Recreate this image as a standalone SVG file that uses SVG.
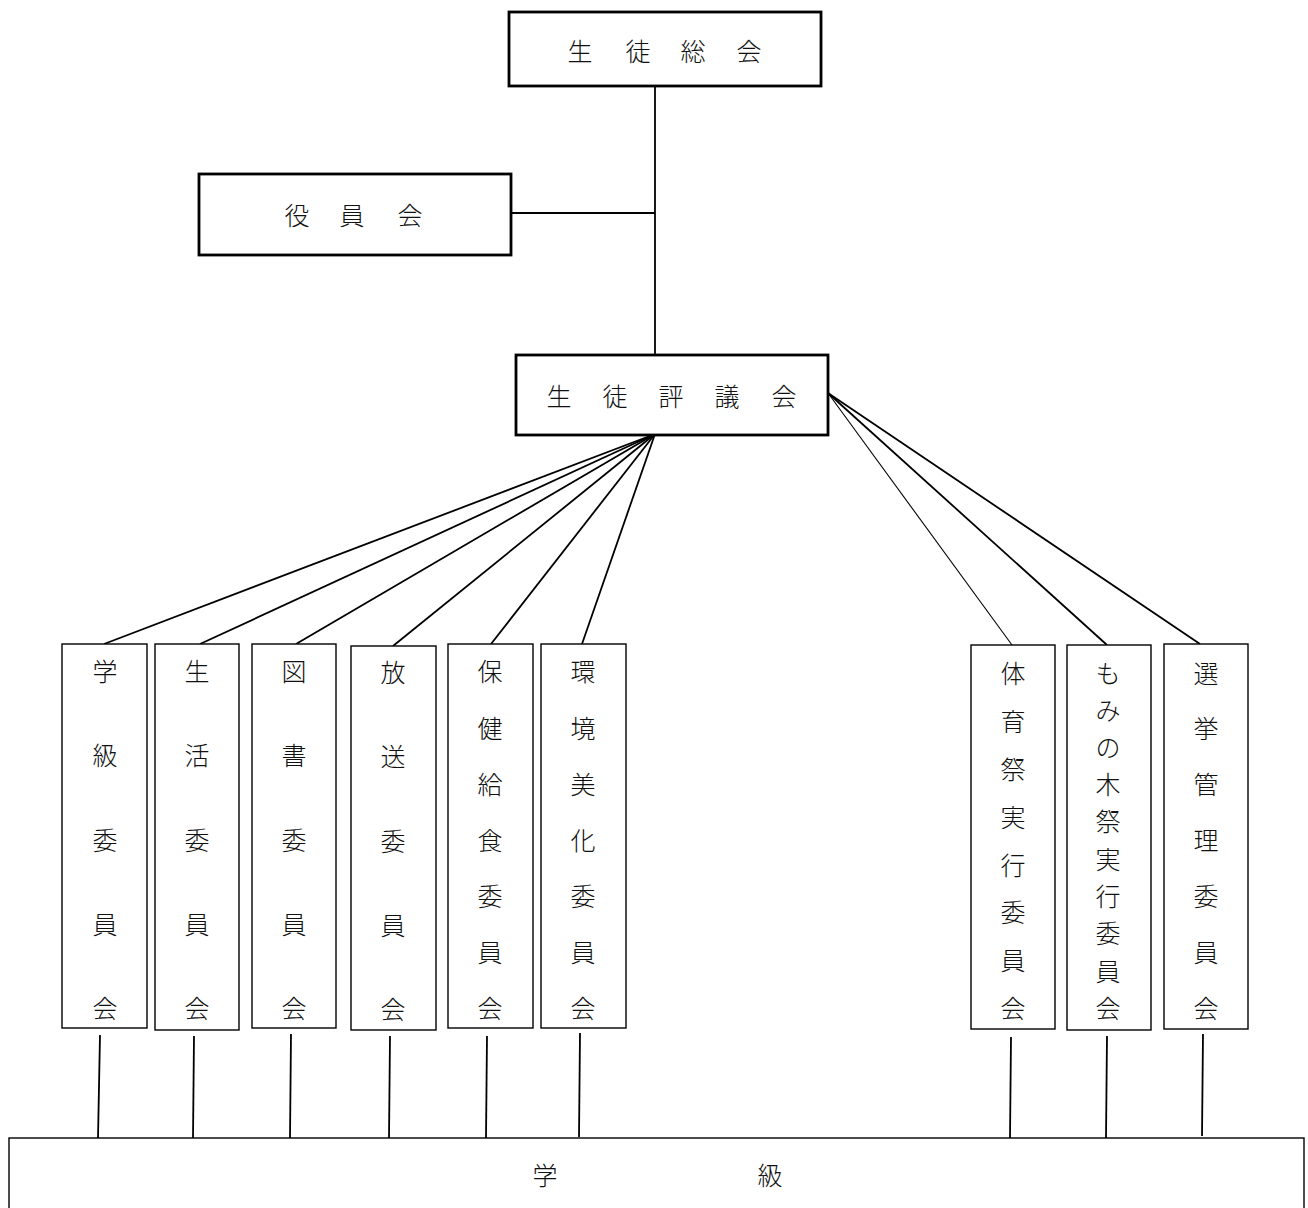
<svg xmlns="http://www.w3.org/2000/svg" width="1308" height="1208" viewBox="0 0 1308 1208">
<style>
text{font-family:"Noto Sans CJK JP","Noto Sans CJK SC",sans-serif;font-size:25px;font-weight:300;fill:#111;text-anchor:middle;dominant-baseline:central}
.big{fill:#fff;stroke:#000;stroke-width:2.8}
.col{fill:#fff;stroke:#000;stroke-width:1.4}
.c{stroke:#000;stroke-width:1.8;fill:none}
.thin{stroke:#000;stroke-width:1.1;fill:none}
</style>
<rect width="1308" height="1208" fill="#fff"/>
<g id="connectors">
<line class="c" x1="655" y1="86" x2="655" y2="355"/>
<line class="c" x1="511" y1="213" x2="655" y2="213"/>
<line class="c" x1="655" y1="434" x2="104" y2="644"/>
<line class="c" x1="655" y1="434" x2="200" y2="644"/>
<line class="c" x1="655" y1="434" x2="296" y2="644"/>
<line class="c" x1="655" y1="434" x2="393" y2="646"/>
<line class="c" x1="655" y1="434" x2="491" y2="644"/>
<line class="c" x1="655" y1="434" x2="582" y2="644"/>
<line class="thin" x1="828" y1="393" x2="1012" y2="645"/>
<line class="c" x1="828" y1="393" x2="1107" y2="645"/>
<line class="c" x1="828" y1="393" x2="1200" y2="644"/>
<line class="c" x1="100" y1="1035" x2="98" y2="1138"/>
<line class="c" x1="194" y1="1036" x2="193" y2="1138"/>
<line class="c" x1="291" y1="1034" x2="290" y2="1138"/>
<line class="c" x1="390" y1="1036" x2="389" y2="1138"/>
<line class="c" x1="487" y1="1036" x2="486" y2="1138"/>
<line class="c" x1="580" y1="1033" x2="579" y2="1137"/>
<line class="c" x1="1011" y1="1037" x2="1010" y2="1138"/>
<line class="c" x1="1107" y1="1036" x2="1106" y2="1138"/>
<line class="c" x1="1203" y1="1034" x2="1202" y2="1136"/>
</g>
<g id="sotokai">
<rect class="big" x="509" y="12" width="312" height="74"/>
<text x="580" y="50">生</text><text x="638" y="50">徒</text><text x="693" y="50">総</text><text x="749" y="50">会</text>
</g>
<g id="yakuinkai">
<rect class="big" x="199" y="174" width="312" height="81"/>
<text x="297" y="214">役</text><text x="352" y="214">員</text><text x="410" y="214">会</text>
</g>
<g id="hyogikai">
<rect class="big" x="516" y="355" width="312" height="80"/>
<text x="559" y="395">生</text><text x="615" y="395">徒</text><text x="671" y="395">評</text><text x="727" y="395">議</text><text x="784" y="395">会</text>
</g>
<g id="gakkyu-iinkai">
<rect class="col" x="62" y="644" width="85" height="384"/>
<text x="105" y="670">学</text><text x="105" y="754">級</text><text x="105" y="839">委</text><text x="105" y="923">員</text><text x="105" y="1007">会</text>
</g>
<g id="seikatsu-iinkai">
<rect class="col" x="155" y="644" width="84" height="386"/>
<text x="197" y="670">生</text><text x="197" y="754">活</text><text x="197" y="839">委</text><text x="197" y="923">員</text><text x="197" y="1007">会</text>
</g>
<g id="tosho-iinkai">
<rect class="col" x="252" y="644" width="84" height="384"/>
<text x="294" y="670">図</text><text x="294" y="754">書</text><text x="294" y="839">委</text><text x="294" y="923">員</text><text x="294" y="1007">会</text>
</g>
<g id="hoso-iinkai">
<rect class="col" x="351" y="646" width="85" height="384"/>
<text x="393" y="671">放</text><text x="393" y="755">送</text><text x="393" y="840">委</text><text x="393" y="924">員</text><text x="393" y="1008">会</text>
</g>
<g id="hoken-iinkai">
<rect class="col" x="448" y="644" width="85" height="384"/>
<text x="490" y="670">保</text><text x="490" y="727">健</text><text x="490" y="783">給</text><text x="490" y="839">食</text><text x="490" y="895">委</text><text x="490" y="951">員</text><text x="490" y="1007">会</text>
</g>
<g id="kankyo-iinkai">
<rect class="col" x="541" y="644" width="85" height="384"/>
<text x="583" y="670">環</text><text x="583" y="727">境</text><text x="583" y="783">美</text><text x="583" y="839">化</text><text x="583" y="895">委</text><text x="583" y="951">員</text><text x="583" y="1007">会</text>
</g>
<g id="taiikusai-iinkai">
<rect class="col" x="971" y="645" width="84" height="384"/>
<text x="1013" y="672">体</text><text x="1013" y="720">育</text><text x="1013" y="768">祭</text><text x="1013" y="816">実</text><text x="1013" y="864">行</text><text x="1013" y="911">委</text><text x="1013" y="959">員</text><text x="1013" y="1007">会</text>
</g>
<g id="mominokisai-iinkai">
<rect class="col" x="1067" y="645" width="84" height="385"/>
<text x="1108" y="672">も</text><text x="1108" y="709">み</text><text x="1108" y="746">の</text><text x="1108" y="783">木</text><text x="1108" y="820">祭</text><text x="1108" y="858">実</text><text x="1108" y="895">行</text><text x="1108" y="932">委</text><text x="1108" y="970">員</text><text x="1108" y="1007">会</text>
</g>
<g id="senkyo-iinkai">
<rect class="col" x="1164" y="644" width="84" height="385"/>
<text x="1206" y="672">選</text><text x="1206" y="727">挙</text><text x="1206" y="783">管</text><text x="1206" y="839">理</text><text x="1206" y="895">委</text><text x="1206" y="951">員</text><text x="1206" y="1007">会</text>
</g>
<g id="gakkyu">
<rect class="col" x="9" y="1138" width="1295" height="90"/>
<text x="545" y="1174">学</text><text x="770" y="1174">級</text>
</g>
</svg>
